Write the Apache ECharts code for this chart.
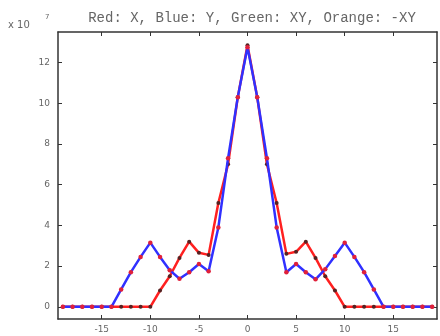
<!DOCTYPE html>
<html><head><meta charset="utf-8">
<script src="https://cdn.jsdelivr.net/npm/echarts@6/dist/echarts.min.js"></script>
<style>html,body{margin:0;padding:0;background:#fff}#c{width:440px;height:336px}</style>
</head><body><div id="c"></div>
<script>
var xs = [-19,-18,-17,-16,-15,-14,-13,-12,-11,-10,-9,-8,-7,-6,-5,-4,-3,-2,-1,0,1,2,3,4,5,6,7,8,9,10,11,12,13,14,15,16,17,18,19];
var redX = [0,0,0,0,0,0,0,0,0,0,0.8,1.5,2.4,3.2,2.65,2.55,5.1,7.0,10.3,12.85,10.3,7.0,5.1,2.6,2.7,3.2,2.4,1.5,0.8,0,0,0,0,0,0,0,0,0,0];
var blueY = [0,0,0,0,0,0,0.85,1.7,2.45,3.15,2.45,1.8,1.38,1.7,2.1,1.75,3.9,7.3,10.3,12.75,10.3,7.3,3.9,1.7,2.1,1.7,1.35,1.85,2.5,3.15,2.45,1.7,0.85,0,0,0,0,0,0];
var xTicks = [-15,-10,-5,0,5,10,15];
var yTicks = [0,2,4,6,8,10,12];
var titleText = 'Red: X, Blue: Y, Green: XY, Orange: -XY';

function pairs(ys){ return xs.map(function(x,i){ return [x, ys[i]]; }); }
var chart = echarts.init(document.getElementById('c'), null, {renderer:'canvas'});
function xAx(pos, showLabel){
  return {type:'value', position:pos, min:-19.5, max:19.5,
    axisLine:{show:true, onZero:false, lineStyle:{color:'#333', width:1.5}},
    axisTick:{show:true, inside:true, length:4, customValues:xTicks, lineStyle:{color:'#333'}},
    axisLabel:{show:showLabel, customValues:xTicks, margin:6, fontSize:9, color:'#666', fontFamily:'DejaVu Sans'},
    splitLine:{show:false}};
}
function yAx(pos, showLabel){
  return {type:'value', position:pos, min:-0.6, max:13.5,
    axisLine:{show:true, onZero:false, lineStyle:{color:'#333', width:1.5}},
    axisTick:{show:true, inside:true, length:4, customValues:yTicks, lineStyle:{color:'#333'}},
    axisLabel:{show:showLabel, customValues:yTicks, margin:8, fontSize:9, color:'#666', fontFamily:'DejaVu Sans'},
    splitLine:{show:false}};
}
chart.setOption({
  animation:false,
  backgroundColor:'#fff',
  title:{text:titleText, left:247, textAlign:'center', top:6,
    textStyle:{fontFamily:'Liberation Mono', fontSize:14, fontWeight:'normal', color:'#666'}},
  grid:{left:58, right:3, top:32, bottom:17},
  xAxis:[xAx('bottom', true), xAx('top', false)],
  yAxis:[yAx('left', true), yAx('right', false)],
  graphic:[{type:'text', left:8, top:20, style:{text:'x 10', fontSize:10, fill:'#666', fontFamily:'DejaVu Sans'}},
           {type:'text', left:45, top:14, style:{text:'7', fontSize:7, fill:'#666', fontFamily:'DejaVu Sans'}}],
  series:[
    {name:'X', type:'line', data:pairs(redX), symbol:'circle', symbolSize:4,
     lineStyle:{color:'#ff2020', width:2.5}, itemStyle:{color:'#552222', borderWidth:0}, z:2},
    {name:'Y', type:'line', data:pairs(blueY), symbol:'circle', symbolSize:4.5,
     lineStyle:{color:'#3030ff', width:2.5}, itemStyle:{color:'#e0203a', borderWidth:0}, z:3}
  ]
});
</script></body></html>
